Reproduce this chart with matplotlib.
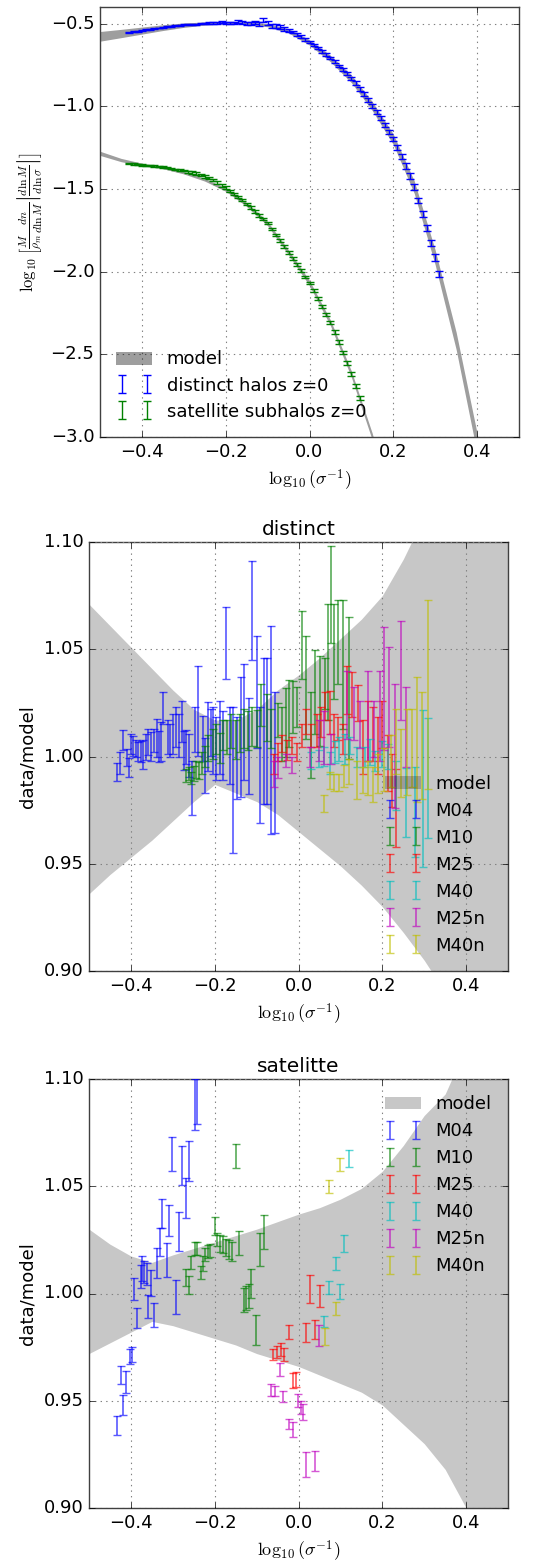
import matplotlib
matplotlib.use('Agg')
import matplotlib.pyplot as plt
import numpy as np

plt.style.use('classic')
plt.rcParams['savefig.facecolor'] = 'white'
plt.rcParams['figure.facecolor'] = 'white'
plt.rcParams['mathtext.fontset'] = 'cm'
plt.rcParams['font.family'] = ['DejaVu Sans']

# ---------------- model grid (log10 sigma^-1) ----------------
model_x = [-0.50, -0.45, -0.40, -0.35, -0.30, -0.25, -0.20, -0.15, -0.10, -0.05, 0.00,
           0.05, 0.10, 0.15, 0.20, 0.25, 0.30, 0.35, 0.40, 0.45, 0.50]
# panel 1 model centres (log10 f)
dist_model = [-0.578, -0.561, -0.543, -0.525, -0.510, -0.500, -0.496, -0.498, -0.510, -0.545, -0.615,
              -0.712, -0.835, -1.000, -1.200, -1.490, -1.916, -2.420, -3.040, -3.750, -4.600]
sat_model = [-1.285, -1.325, -1.352, -1.372, -1.403, -1.445, -1.505, -1.595, -1.710, -1.885, -2.070,
             -2.310, -2.620, -3.000, -3.500, -4.050, -4.700, -5.400, -6.200, -7.000, -8.000]
# relative model uncertainty (panels 2, 3)
dist_up = [1.071, 1.061, 1.051, 1.041, 1.031, 1.022, 1.017, 1.017, 1.022, 1.031, 1.038,
           1.046, 1.055, 1.064, 1.075, 1.092, 1.112, 1.132, 1.155, 1.180, 1.210]
dist_lo = [0.936, 0.945, 0.953, 0.961, 0.970, 0.979, 0.987, 0.983, 0.979, 0.973, 0.965,
           0.957, 0.949, 0.940, 0.930, 0.918, 0.905, 0.890, 0.875, 0.860, 0.843]
sat_up = [1.030, 1.023, 1.0175, 1.0145, 1.018, 1.021, 1.024, 1.027, 1.030, 1.0335, 1.037,
          1.040, 1.044, 1.049, 1.057, 1.069, 1.083, 1.093, 1.115, 1.140, 1.170]
sat_lo = [0.972, 0.977, 0.982, 0.987, 0.985, 0.982, 0.979, 0.976, 0.972, 0.969, 0.966,
          0.962, 0.958, 0.954, 0.948, 0.939, 0.930, 0.918, 0.900, 0.878, 0.853]

# ---------------- panel 1 data ----------------
p1_dist_x = [-0.43, -0.42, -0.41, -0.40, -0.39, -0.38, -0.37, -0.36, -0.35, -0.34, -0.33, -0.32, -0.31,
             -0.30, -0.29, -0.28, -0.27, -0.26, -0.25, -0.24, -0.23, -0.22, -0.21, -0.20, -0.19, -0.18,
             -0.17, -0.16, -0.15, -0.14, -0.13, -0.12, -0.11, -0.10, -0.09, -0.08, -0.07, -0.06, -0.05,
             -0.04, -0.03, -0.02, -0.01, 0.00, 0.01, 0.02, 0.03, 0.04, 0.05, 0.06, 0.07, 0.08, 0.09,
             0.10, 0.11, 0.12, 0.13, 0.14, 0.15, 0.16, 0.17, 0.18, 0.19, 0.20, 0.21, 0.22, 0.23, 0.24,
             0.25, 0.26, 0.27, 0.28, 0.29, 0.30, 0.31]
p1_dist_y = [-0.556, -0.551, -0.548, -0.541, -0.538, -0.535, -0.533, -0.527, -0.524, -0.520, -0.518,
             -0.511, -0.512, -0.508, -0.506, -0.505, -0.503, -0.502, -0.501, -0.497, -0.499, -0.495,
             -0.493, -0.495, -0.494, -0.495, -0.486, -0.495, -0.500, -0.497, -0.495, -0.503, -0.478,
             -0.497, -0.514, -0.516, -0.523, -0.535, -0.542, -0.552, -0.566, -0.580, -0.597, -0.612,
             -0.630, -0.648, -0.668, -0.686, -0.709, -0.731, -0.756, -0.778, -0.804, -0.832, -0.862,
             -0.893, -0.925, -0.960, -0.998, -1.035, -1.072, -1.113, -1.156, -1.199, -1.250, -1.305,
             -1.362, -1.421, -1.490, -1.570, -1.650, -1.736, -1.826, -1.916, -2.015]
p1_dist_e = [0.003] * 19 + [0.005, 0.006, 0.005, 0.006, 0.007, 0.006, 0.007, 0.008, 0.009, 0.008,
                            0.009, 0.010, 0.010, 0.012, 0.011, 0.012, 0.012, 0.013, 0.012, 0.011] \
            + [0.008] * 15 + [0.012] * 10 + [0.016, 0.016, 0.017, 0.017, 0.018, 0.018, 0.018, 0.019,
                                             0.019, 0.020, 0.020]

p1_sat_x = [-0.43, -0.42, -0.41, -0.40, -0.39, -0.38, -0.37, -0.36, -0.35, -0.34, -0.33, -0.32, -0.31,
            -0.30, -0.29, -0.28, -0.27, -0.26, -0.25, -0.24, -0.23, -0.22, -0.21, -0.20, -0.19, -0.18,
            -0.17, -0.16, -0.15, -0.14, -0.13, -0.12, -0.11, -0.10, -0.09, -0.08, -0.07, -0.06, -0.05,
            -0.04, -0.03, -0.02, -0.01, 0.00, 0.01, 0.02, 0.03, 0.04, 0.05, 0.06, 0.07, 0.08, 0.09,
            0.10, 0.11, 0.12]
p1_sat_y = [-1.345, -1.350, -1.352, -1.356, -1.357, -1.359, -1.362, -1.364, -1.368, -1.372, -1.378,
            -1.384, -1.386, -1.390, -1.398, -1.402, -1.408, -1.416, -1.425, -1.434, -1.446, -1.460,
            -1.478, -1.492, -1.512, -1.530, -1.548, -1.568, -1.590, -1.613, -1.636, -1.660, -1.683,
            -1.706, -1.742, -1.778, -1.812, -1.848, -1.884, -1.921, -1.958, -1.995, -2.032, -2.068,
            -2.114, -2.161, -2.209, -2.259, -2.309, -2.367, -2.427, -2.489, -2.554, -2.619, -2.689,
            -2.764]
p1_sat_e = [0.004] * 14 + [0.008] * 10 + [0.007] * 15 + [0.008] * 10 + [0.012] * 7

# ---------------- panel 2 (distinct) ----------------
d_M04_x = [-0.433, -0.425, -0.418, -0.41, -0.405, -0.4, -0.395, -0.388, -0.383, -0.377, -0.372, -0.364,
           -0.358, -0.352, -0.346, -0.338, -0.333, -0.328, -0.323, -0.312, -0.306, -0.3, -0.292, -0.286,
           -0.279, -0.273, -0.268, -0.262, -0.255, -0.246, -0.24, -0.229, -0.222, -0.215, -0.21, -0.205,
           -0.198, -0.188, -0.181, -0.173, -0.164, -0.156, -0.146, -0.138, -0.129, -0.119, -0.11, -0.1,
           -0.092, -0.083, -0.075, -0.065, -0.057]
d_M04_y = [0.9928, 0.997, 1.0075, 0.9997, 0.995, 1.006, 1.005, 1.0036, 1.0024, 1.0024, 1.001, 1.0043,
           1.0067, 1.0047, 1.0075, 1.0086, 1.0047, 1.007, 1.0226, 1.009, 1.0075, 1.0106, 1.0137, 1.0098,
           1.0164, 1.0028, 1.0044, 1.0005, 0.9853, 1.0125, 1.0214, 1.0086, 0.9958, 1.0094, 1.0113, 1.0075,
           1.0036, 1.009, 1.005, 1.053, 1.0052, 0.9889, 0.9993, 1.009, 1.016, 1.005, 1.068, 1.030,
           0.996, 1.012, 1.0118, 1.0125, 0.9973]
d_M04_e = [0.004, 0.005, 0.0047, 0.004, 0.0045, 0.0047, 0.0047, 0.004, 0.0043, 0.005, 0.0066, 0.006,
           0.006, 0.0066, 0.0055, 0.009, 0.0074, 0.009, 0.0074, 0.008, 0.0078, 0.0093, 0.0093, 0.01,
           0.0097, 0.0093, 0.0078, 0.01, 0.0128, 0.0105, 0.021, 0.0105, 0.013, 0.016, 0.011, 0.0155,
           0.0147, 0.017, 0.016, 0.0167, 0.018, 0.034, 0.019, 0.028, 0.027, 0.0225, 0.023, 0.026,
           0.027, 0.034, 0.034, 0.0485, 0.033]

d_M10_x = [-0.268, -0.262, -0.256, -0.25, -0.244, -0.238, -0.23, -0.222, -0.215, -0.205, -0.196, -0.188,
           -0.18, -0.17, -0.16, -0.15, -0.14, -0.13, -0.12, -0.11, -0.1, -0.089, -0.076, -0.066, -0.05,
           -0.04, -0.029, -0.022, -0.012, -0.004, 0.008, 0.018, 0.029, 0.04, 0.052, 0.064, 0.07, 0.078,
           0.085, 0.095, 0.107, 0.12]
d_M10_y = [0.991, 0.992, 0.990, 0.992, 0.994, 0.9935, 0.997, 1.0, 1.004, 1.006, 1.008, 1.004, 1.01,
           1.009, 1.012, 1.008, 1.011, 1.013, 1.012, 1.014, 1.013, 1.024, 1.018, 1.013, 1.017, 1.0105,
           1.016, 1.02, 1.023, 1.023, 1.052, 1.032, 1.01, 1.03, 1.026, 1.034, 1.044, 1.0755, 1.049,
           1.0535, 1.043, 1.032]
d_M10_e = [0.003, 0.003, 0.003, 0.0035, 0.004, 0.004, 0.005, 0.005, 0.006, 0.007, 0.007, 0.007, 0.007,
           0.008, 0.008, 0.009, 0.009, 0.009, 0.009, 0.009, 0.0085, 0.01, 0.011, 0.009, 0.008, 0.0125,
           0.016, 0.0157, 0.012, 0.0093, 0.016, 0.024, 0.02, 0.0195, 0.021, 0.012, 0.027, 0.0225, 0.022,
           0.0195, 0.03, 0.033]

d_M25_x = [-0.058, -0.05, -0.039, -0.027, -0.016, -0.004, 0.008, 0.019, 0.031, 0.043, 0.054, 0.064,
           0.074, 0.085, 0.095, 0.107, 0.116, 0.128, 0.143, 0.155, 0.167, 0.178, 0.19, 0.2, 0.213,
           0.223, 0.232]
d_M25_y = [0.9966, 1.002, 1.006, 1.003, 1.005, 1.002, 1.0097, 1.0164, 1.0097, 1.012, 1.016, 1.0234,
           1.0206, 1.012, 1.013, 1.008, 1.031, 1.029, 1.025, 1.0044, 1.012, 1.0105, 1.005, 1.015, 0.997,
           0.9888, 0.976]
d_M25_e = [0.0046, 0.0043, 0.004, 0.0047, 0.004, 0.0043, 0.0054, 0.0058, 0.0054, 0.0078, 0.007, 0.0066,
           0.01, 0.0078, 0.0054, 0.007, 0.011, 0.0105, 0.0085, 0.0124, 0.014, 0.0125, 0.0132, 0.011,
           0.0132, 0.0124, 0.018]

d_M40_x = [0.03, 0.05, 0.062, 0.075, 0.087, 0.097, 0.112, 0.124, 0.14, 0.159, 0.17, 0.182, 0.2, 0.213,
           0.233, 0.256, 0.279, 0.298, 0.31]
d_M40_y = [0.998, 0.999, 1.0, 0.997, 1.002, 1.0035, 1.0036, 1.005, 0.9997, 0.9997, 1.002, 0.998, 1.001,
           1.0, 0.9866, 0.9787, 0.974, 0.985, 0.99]
d_M40_e = [0.004, 0.004, 0.0045, 0.005, 0.005, 0.0055, 0.007, 0.004, 0.0047, 0.0047, 0.006, 0.0047,
           0.006, 0.006, 0.0115, 0.016, 0.021, 0.0365, 0.028]

d_M25n_x = [-0.058, -0.05, -0.031, -0.016, 0.027, 0.05, 0.062, 0.078, 0.116, 0.132, 0.147, 0.167, 0.18,
            0.194, 0.205, 0.217, 0.23, 0.244, 0.256]
d_M25n_y = [0.992, 0.995, 0.998, 0.996, 0.9997, 1.0074, 1.009, 1.0036, 1.024, 1.02, 1.015, 1.019, 1.013,
            1.019, 1.0315, 1.0277, 1.005, 1.04, 1.0138]
d_M25n_e = [0.006, 0.0048, 0.0031, 0.0039, 0.0047, 0.0094, 0.0124, 0.007, 0.016, 0.0125, 0.011, 0.021,
            0.013, 0.021, 0.0287, 0.0233, 0.029, 0.023, 0.0188]

d_M40n_x = [0.06, 0.074, 0.085, 0.097, 0.109, 0.12, 0.14, 0.155, 0.165, 0.178, 0.19, 0.205, 0.22, 0.233,
            0.245, 0.258, 0.27, 0.283, 0.295, 0.31]
d_M40n_y = [0.978, 0.989, 0.988, 0.988, 0.991, 0.993, 0.989, 0.989, 0.99, 0.987, 0.992, 0.994, 0.998,
            1.007, 0.997, 1.002, 1.004, 1.008, 1.005, 1.029]
d_M40n_e = [0.004, 0.004, 0.004, 0.004, 0.005, 0.006, 0.009, 0.006, 0.008, 0.008, 0.009, 0.01, 0.012,
            0.015, 0.016, 0.02, 0.018, 0.029, 0.025, 0.044]

# ---------------- panel 3 (satellite) ----------------
s_M04_x = [-0.434, -0.424, -0.418, -0.412, -0.403, -0.397, -0.393, -0.385, -0.377, -0.373, -0.368, -0.362,
           -0.358, -0.352, -0.345, -0.337, -0.331, -0.325, -0.314, -0.308, -0.302, -0.292, -0.286, -0.277,
           -0.269, -0.262, -0.246, -0.242]
s_M04_y = [0.9385, 0.962, 0.948, 0.9587, 0.9707, 0.9715, 1.002, 0.9887, 1.008, 1.0116, 1.010, 1.009,
           0.994, 1.005, 0.990, 1.0143, 1.024, 1.0373, 1.0155, 1.034, 1.065, 0.9984, 1.0288, 1.0598,
           1.0447, 1.0618, 1.088, 1.092]
s_M04_e = [0.0045, 0.004, 0.0047, 0.005, 0.0036, 0.0035, 0.005, 0.0047, 0.0055, 0.0058, 0.005, 0.005,
           0.0055, 0.006, 0.0055, 0.007, 0.0066, 0.0066, 0.008, 0.0074, 0.0078, 0.008, 0.009, 0.009,
           0.0093, 0.0093, 0.012, 0.013]

s_M10_x = [-0.268, -0.262, -0.257, -0.248, -0.243, -0.233, -0.228, -0.222, -0.215, -0.211, -0.2, -0.195,
           -0.187, -0.18, -0.172, -0.165, -0.158, -0.148, -0.141, -0.131, -0.125, -0.118, -0.114, -0.102,
           -0.092, -0.083]
s_M10_y = [1.0075, 1.004, 1.0143, 1.021, 1.021, 1.0096, 1.014, 1.018, 1.0195, 1.02, 1.0315, 1.025,
           1.0235, 1.0228, 1.0215, 1.0205, 1.0196, 1.064, 1.0235, 0.997, 0.998, 0.9987, 1.0046, 0.983,
           1.0206, 1.0288]
s_M10_e = [0.004, 0.004, 0.003, 0.003, 0.003, 0.003, 0.0035, 0.003, 0.003, 0.003, 0.004, 0.003, 0.004,
           0.004, 0.004, 0.0045, 0.0045, 0.0055, 0.0055, 0.0055, 0.0055, 0.0055, 0.0066, 0.007, 0.0078,
           0.008]

s_M25_x = [-0.061, -0.052, -0.042, -0.035, -0.023, -0.013, -0.006, 0.0185, 0.028, 0.04, 0.0515]
s_M25_y = [0.9715, 0.9727, 0.9737, 0.9715, 0.982, 0.9593, 0.960, 0.9818, 1.002, 0.9833, 0.9988]
s_M25_e = [0.0025, 0.0027, 0.003, 0.003, 0.0032, 0.0035, 0.0035, 0.0043, 0.0065, 0.0043, 0.005]

s_M40_x = [0.061, 0.072, 0.0885, 0.098, 0.108, 0.121]
s_M40_y = [0.9868, 1.003, 1.014, 1.001, 1.0233, 1.063]
s_M40_e = [0.0025, 0.003, 0.003, 0.0035, 0.004, 0.004]

s_M25n_x = [-0.065, -0.055, -0.044, -0.036, -0.023, -0.0135, -0.0016, 0.0063, 0.01, 0.018, 0.04, 0.05]
s_M25n_y = [0.955, 0.9545, 0.9646, 0.952, 0.939, 0.9365, 0.950, 0.9469, 0.9446, 0.9204, 0.922, 0.9804]
s_M25n_e = [0.0027, 0.0025, 0.003, 0.0027, 0.0023, 0.0035, 0.003, 0.003, 0.0038, 0.0058, 0.0046, 0.005]

s_M40n_x = [0.063, 0.072, 0.0885, 0.099]
s_M40n_y = [0.980, 1.0497, 0.993, 1.060]
s_M40n_e = [0.004, 0.003, 0.003, 0.003]

sim_names = ['M04', 'M10', 'M25', 'M40', 'M25n', 'M40n']
sim_colors = ['b', 'g', 'r', 'c', 'm', 'y']

x_ticks = [-0.4, -0.2, 0.0, 0.2, 0.4]
p1_yticks = [-3.0, -2.5, -2.0, -1.5, -1.0, -0.5]
ratio_yticks = [0.90, 0.95, 1.00, 1.05, 1.10]

# ---------------- figure ----------------
W, H = 536.0, 1561.0
fig = plt.figure(figsize=(W / 100, H / 100), dpi=100)
ax1 = fig.add_axes([100 / W, 1 - 437 / H, 419 / W, 430 / H])
ax2 = fig.add_axes([89 / W, 1 - 971 / H, 419 / W, 429 / H])
ax3 = fig.add_axes([89 / W, 1 - 1508 / H, 419 / W, 429 / H])

xlab = r'$\log_{10}(\sigma^{-1})$'
mx = np.array(model_x)

# panel 1
dm = np.array(dist_model)
sm = np.array(sat_model)
ax1.fill_between(mx, dm + np.log10(dist_lo), dm + np.log10(dist_up), color='k', alpha=0.38,
                 lw=0, label='model', zorder=1)
ax1.fill_between(mx, sm + np.log10(sat_lo), sm + np.log10(sat_up), color='k', alpha=0.38,
                 lw=0, zorder=1)
ax1.errorbar(p1_dist_x, p1_dist_y, yerr=p1_dist_e, fmt='none', ecolor='b', elinewidth=1.0,
             capsize=3, capthick=1.0, label='distinct halos z=0', zorder=3)
ax1.errorbar(p1_sat_x, p1_sat_y, yerr=p1_sat_e, fmt='none', ecolor='g', elinewidth=1.0,
             capsize=3, capthick=1.0, label='satellite subhalos z=0', zorder=3)
ax1.set_xlim(-0.5, 0.5)
ax1.set_ylim(-3.0, -0.4)
ax1.set_yticks(p1_yticks)
ax1.set_xticks(x_ticks)
ax1.set_xlabel(xlab, fontsize=13)
ax1.set_ylabel(r'$\log_{10}\left[\frac{M}{\rho_m}\frac{dn}{d\ln M}\left|\frac{d\ln M}{d\ln\sigma}\right|\right]$',
               fontsize=12)
ax1.legend(loc='lower left', frameon=False, fontsize=13, numpoints=2, handlelength=2.0,
           handletextpad=0.8, labelspacing=0.45, borderaxespad=0.5)

ratio_sets = {
    ax2: ([d_M04_x, d_M10_x, d_M25_x, d_M40_x, d_M25n_x, d_M40n_x],
          [d_M04_y, d_M10_y, d_M25_y, d_M40_y, d_M25n_y, d_M40n_y],
          [d_M04_e, d_M10_e, d_M25_e, d_M40_e, d_M25n_e, d_M40n_e],
          dist_lo, dist_up, 'distinct', 'lower right'),
    ax3: ([s_M04_x, s_M10_x, s_M25_x, s_M40_x, s_M25n_x, s_M40n_x],
          [s_M04_y, s_M10_y, s_M25_y, s_M40_y, s_M25n_y, s_M40n_y],
          [s_M04_e, s_M10_e, s_M25_e, s_M40_e, s_M25n_e, s_M40n_e],
          sat_lo, sat_up, 'satelitte', 'upper right'),
}

for ax, (xs, ys, es, lo, up, title, loc) in ratio_sets.items():
    ax.fill_between(mx, lo, up, color='k', alpha=0.22, lw=0, label='model', zorder=1)
    for x, y, e, name, c in zip(xs, ys, es, sim_names, sim_colors):
        ax.errorbar(x, y, yerr=e, fmt='none', ecolor=c, elinewidth=1.2, capsize=3, capthick=1.0,
                    alpha=0.65, label=name, zorder=3)
    ax.set_xlim(-0.5, 0.5)
    ax.set_ylim(0.90, 1.10)
    ax.set_yticks(ratio_yticks)
    ax.set_xticks(x_ticks)
    ax.set_xlabel(xlab, fontsize=13)
    ax.set_ylabel('data/model', fontsize=13)
    ax.set_title(title, fontsize=14.5)
    ax.legend(loc=loc, frameon=False, fontsize=13, numpoints=2, handlelength=2.0,
              handletextpad=0.8, labelspacing=0.5, borderaxespad=0.5)

for ax in (ax1, ax2, ax3):
    ax.grid(True, linestyle=':', color='0.5', linewidth=0.8)
    ax.set_axisbelow(False)
    ax.tick_params(labelsize=13, direction='in', top=True, right=True)
    for sp in ax.spines.values():
        sp.set_linewidth(1.0)
        sp.set_color('0.25')

fig.savefig('out.png', dpi=100)
